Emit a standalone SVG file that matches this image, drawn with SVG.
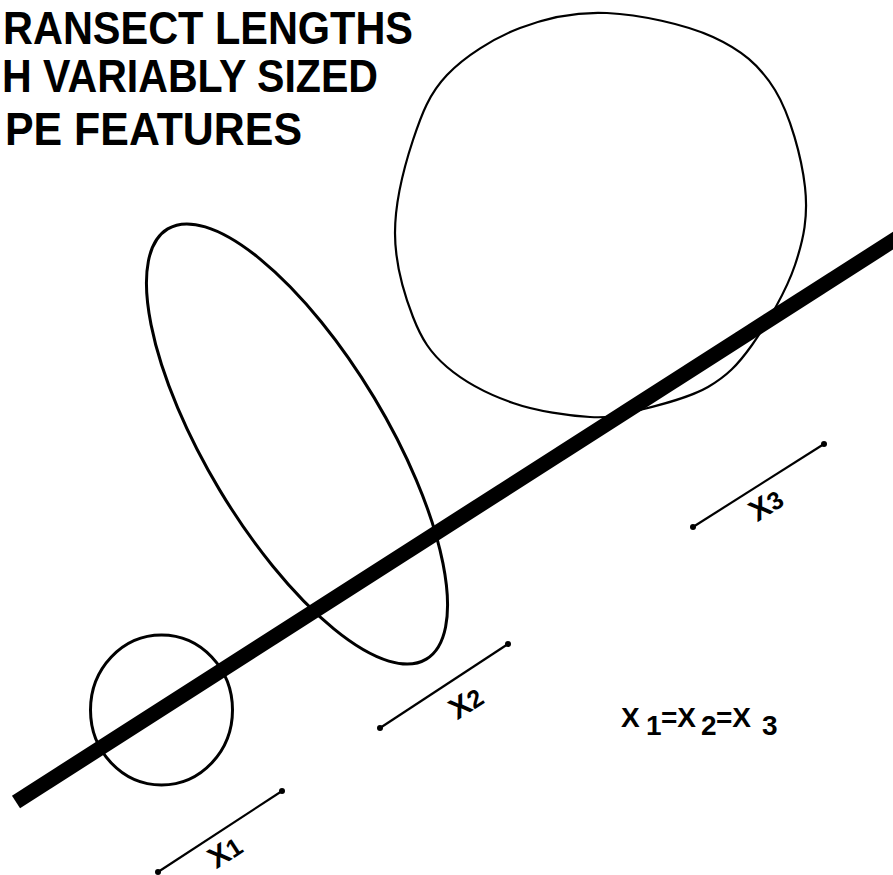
<svg xmlns="http://www.w3.org/2000/svg" width="893" height="875" viewBox="0 0 893 875">
<style>
.outline{fill:none;stroke:#000;stroke-width:3}
.seg{stroke:#000;stroke-width:2.2;fill:none}
.dot{fill:#000}
.title{font-family:"Liberation Sans",Arial,sans-serif;font-weight:bold;font-size:46px;fill:#000}
.lbl{font-family:"Liberation Sans",Arial,sans-serif;font-weight:bold;font-size:30px;fill:#000;text-anchor:middle}
.eq{font-family:"Liberation Sans",Arial,sans-serif;font-weight:bold;font-size:28px;fill:#000}
</style>
<rect width="893" height="875" fill="#fff"/>
<g id="title">
<text class="title" x="3" y="44" font-size="44" textLength="410" lengthAdjust="spacingAndGlyphs">RANSECT LENGTHS</text>
<text class="title" x="2" y="92" textLength="376" lengthAdjust="spacingAndGlyphs">H VARIABLY SIZED</text>
<text class="title" x="5" y="145" textLength="297" lengthAdjust="spacingAndGlyphs">PE FEATURES</text>
</g>
<g id="feature-small">
<ellipse class="outline" cx="161.5" cy="710" rx="71" ry="75"/>
</g>
<g id="feature-ellipse">
<ellipse class="outline" cx="297" cy="444" rx="251" ry="90" transform="rotate(59 297 444)"/>
</g>
<g id="feature-large">
<path class="outline" style="stroke-width:2.2" d="M607,13 C639.2,14.5 685,24.2 713,37 C741,49.8 759.7,65 775,90 C790.3,115 801.7,157.8 805,187 C808.3,216.2 803.8,238.7 795,265 C786.2,291.3 766.5,324.7 752,345 C737.5,365.3 726.7,376.2 708,387 C689.3,397.8 659.7,405 640,410 C620.3,415 611.2,418.2 590,417 C568.8,415.8 536.8,411.3 513,403 C489.2,394.7 463.7,381.3 447,367 C430.3,352.7 421.7,339.3 413,317 C404.3,294.7 395,262.5 395,233 C395,203.5 404.3,166.3 413,140 C421.7,113.7 429.2,93.7 447,75 C464.8,56.3 493.3,38.3 520,28 C546.7,17.7 574.8,11.5 607,13 Z"/>
</g>
<g id="connectors">
<line x1="16" y1="802" x2="905" y2="233" stroke="#000" stroke-width="15"/>
</g>
<g id="x1">
<line class="seg" x1="158" y1="872" x2="282" y2="791"/>
<circle class="dot" cx="158" cy="872" r="3"/>
<circle class="dot" cx="282" cy="791" r="3"/>
<text class="lbl" transform="translate(225,852) rotate(-33)" x="0" y="10">X<tspan font-size="25">1</tspan></text>
</g>
<g id="x2">
<line class="seg" x1="380" y1="728" x2="508" y2="644"/>
<circle class="dot" cx="380" cy="728" r="3"/>
<circle class="dot" cx="508" cy="644" r="3"/>
<text class="lbl" transform="translate(466,703) rotate(-33)" x="0" y="10">X<tspan font-size="25">2</tspan></text>
</g>
<g id="x3">
<line class="seg" x1="693" y1="527" x2="824" y2="444"/>
<circle class="dot" cx="693" cy="527" r="3"/>
<circle class="dot" cx="824" cy="444" r="3"/>
<text class="lbl" transform="translate(766,505) rotate(-33)" x="0" y="10">X<tspan font-size="25">3</tspan></text>
</g>
<g id="equation">
<text class="eq" y="727"><tspan x="621">X</tspan><tspan x="646" y="735">1</tspan><tspan x="661" y="727">=X</tspan><tspan x="701" y="735">2</tspan><tspan x="716" y="727">=X</tspan><tspan x="762" y="735">3</tspan></text>
</g>
</svg>
